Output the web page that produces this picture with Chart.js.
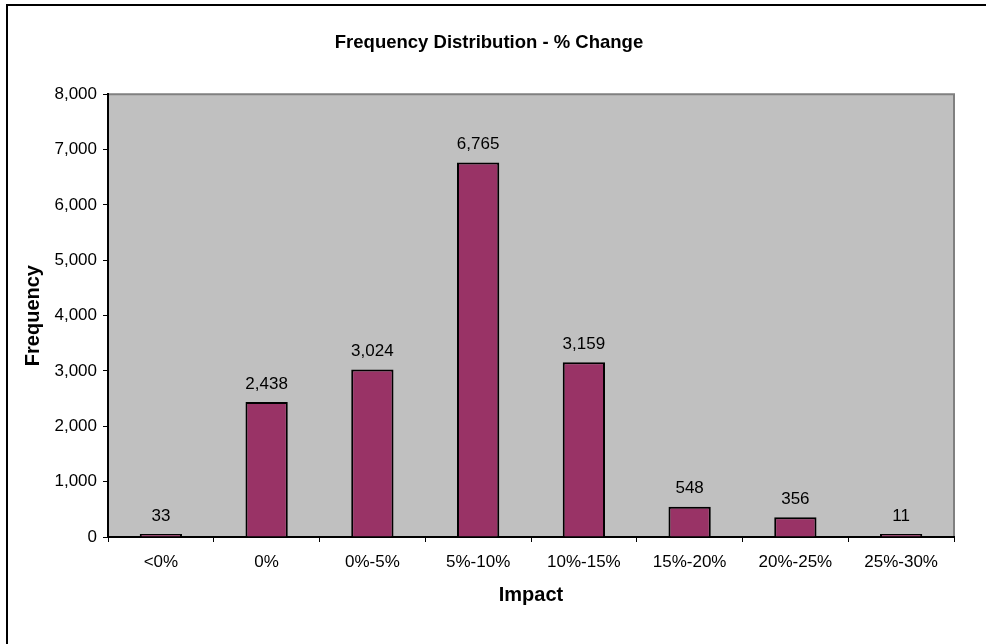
<!DOCTYPE html>
<html>
<head>
<meta charset="utf-8">
<script src="https://cdn.jsdelivr.net/npm/chart.js@4/dist/chart.umd.min.js"></script>
<style>
  html, body { margin: 0; padding: 0; background: #fff; }
  #wrap { width: 986px; height: 644px; position: relative; }
</style>
</head>
<body>
<div id="wrap"><canvas id="chart"></canvas></div>
<script>
// data
const categories = ['<0%', '0%', '0%-5%', '5%-10%', '10%-15%', '15%-20%', '20%-25%', '25%-30%'];
const frequencies = [33, 2438, 3024, 6765, 3159, 548, 356, 11];
const yTicks = [0, 1000, 2000, 3000, 4000, 5000, 6000, 7000, 8000];

const FONT = 'Arial, "Liberation Sans", sans-serif';
const BAR_COLOR = '#993366';
const PLOT_BG = '#c0c0c0';

// outer frame + gray plot area + plot border on top/right
const framePlugin = {
  id: 'frame',
  beforeDraw(chart) {
    const { ctx, chartArea: a } = chart;
    ctx.save();
    ctx.fillStyle = '#fff';
    ctx.fillRect(0, 0, chart.width, chart.height);
    ctx.strokeStyle = '#000';
    ctx.lineWidth = 2;
    ctx.beginPath();
    ctx.moveTo(7, chart.height);
    ctx.lineTo(7, 5);
    ctx.lineTo(chart.width, 5);
    ctx.stroke();
    ctx.fillStyle = PLOT_BG;
    ctx.fillRect(a.left, a.top, a.right - a.left, a.bottom - a.top);
    ctx.strokeStyle = '#808080';
    ctx.lineWidth = 2;
    ctx.beginPath();
    ctx.moveTo(a.left, a.top);
    ctx.lineTo(a.right, a.top);
    ctx.lineTo(a.right, a.bottom);
    ctx.stroke();
    ctx.restore();
  },
};

// value labels above each bar
const valueLabels = {
  id: 'valueLabels',
  afterDatasetsDraw(chart) {
    const { ctx } = chart;
    const meta = chart.getDatasetMeta(0);
    ctx.save();
    ctx.font = '17px ' + FONT;
    ctx.fillStyle = '#000';
    ctx.textAlign = 'center';
    ctx.textBaseline = 'middle';
    meta.data.forEach((bar, i) => {
      ctx.fillText(frequencies[i].toLocaleString('en-US'), bar.x, bar.y - 18);
    });
    ctx.restore();
  },
};

new Chart(document.getElementById('chart'), {
  type: 'bar',
  data: {
    labels: categories,
    datasets: [{
      label: 'Frequency',
      data: frequencies,
      backgroundColor: BAR_COLOR,
      borderColor: '#000',
      borderWidth: 2,
      minBarLength: 3,
      barPercentage: 0.4,
      categoryPercentage: 1,
    }],
  },
  options: {
    responsive: true,
    maintainAspectRatio: false,
    animation: false,
    layout: { padding: { left: 24, right: 32, top: 0, bottom: 33 } },
    plugins: {
      legend: { display: false },
      tooltip: { enabled: false },
      title: {
        display: true,
        text: 'Frequency Distribution - % Change',
        color: '#000',
        font: { family: FONT, size: 18.5, weight: 'bold', lineHeight: 1.2 },
        padding: { top: 32, bottom: 40 },
      },
    },
    scales: {
      x: {
        offset: true,
        grid: {
          offset: true,
          drawOnChartArea: false,
          drawTicks: true,
          tickLength: 5,
          color: '#000',
        },
        border: { display: true, color: '#000', width: 2 },
        ticks: {
          color: '#000',
          padding: 10,
          font: { family: FONT, size: 17 },
          maxRotation: 0,
        },
        title: {
          display: true,
          text: 'Impact',
          color: '#000',
          font: { family: FONT, size: 20, weight: 'bold', lineHeight: 1.2 },
          padding: { top: 0, bottom: 4 },
        },
        afterFit(scale) { scale.height = 74; },
      },
      y: {
        min: 0,
        max: 8000,
        afterBuildTicks(scale) { scale.ticks = yTicks.map(v => ({ value: v })); },
        grid: {
          drawOnChartArea: false,
          drawTicks: true,
          tickLength: 5,
          color: '#000',
        },
        border: { display: true, color: '#000', width: 2 },
        ticks: {
          color: '#000',
          padding: 6,
          font: { family: FONT, size: 17 },
          callback: v => v.toLocaleString('en-US'),
        },
        title: {
          display: true,
          text: 'Frequency',
          color: '#000',
          font: { family: FONT, size: 20, weight: 'bold', lineHeight: 0.9 },
          padding: { top: 0, bottom: 0 },
        },
        afterFit(scale) { scale.width = 84; },
      },
    },
  },
  plugins: [framePlugin, valueLabels],
});
</script>
</body>
</html>
